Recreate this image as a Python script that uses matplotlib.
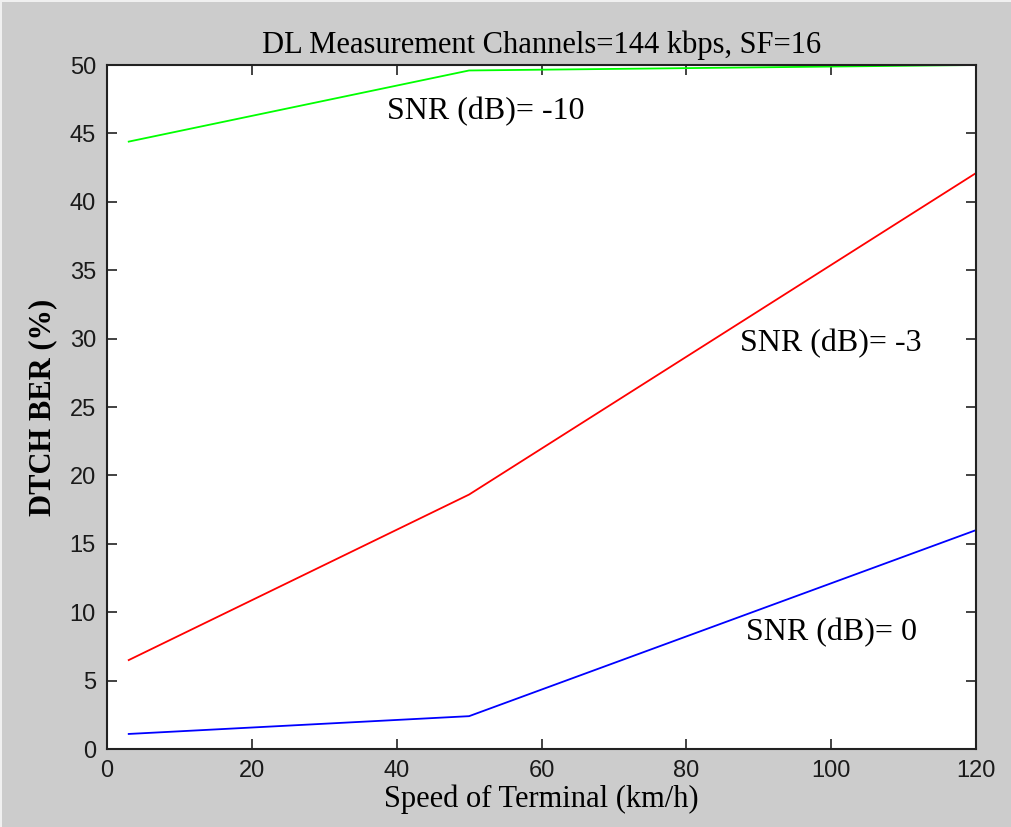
import matplotlib
matplotlib.use("Agg")
import matplotlib.pyplot as plt
from matplotlib.patches import Rectangle

speed = [3, 50, 120]
ber_snr_m10 = [44.4, 49.6, 50.0]
ber_snr_m3 = [6.5, 18.6, 42.1]
ber_snr_0 = [1.1, 2.4, 16.0]

xticks = [0, 20, 40, 60, 80, 100, 120]
yticks = [0, 5, 10, 15, 20, 25, 30, 35, 40, 45, 50]

serif = ["Liberation Serif", "DejaVu Serif"]
sans = ["Liberation Sans", "DejaVu Sans"]

W, H = 1011, 827
fig = plt.figure(figsize=(W / 100, H / 100), dpi=100, facecolor="#cccccc")
# thin light border at top and left edge of the window capture
fig.patches.append(Rectangle((0, 0), 2 / W, 1, transform=fig.transFigure,
                             facecolor="#f0f0f0", edgecolor="none"))
fig.patches.append(Rectangle((0, 1 - 2 / H), 1, 2 / H, transform=fig.transFigure,
                             facecolor="#f0f0f0", edgecolor="none"))

ax = fig.add_axes([107 / W, 1 - 749 / H, (976 - 107) / W, (749 - 65) / H])
ax.set_facecolor("white")

ax.plot(speed, ber_snr_m10, color="#00ff00", lw=1.3)
ax.plot(speed, ber_snr_m3, color="#ff0000", lw=1.3)
ax.plot(speed, ber_snr_0, color="#0000ff", lw=1.3)

ax.set_xlim(0, 120)
ax.set_ylim(0, 50)
ax.set_xticks(xticks)
ax.set_yticks(yticks)
ax.tick_params(direction="in", length=7, width=1.2, top=True, right=True,
               labelsize=17, pad=8, colors="#222222")
for lab in ax.get_xticklabels() + ax.get_yticklabels():
    lab.set_family(sans)
    lab.set_color("#1a1a1a")
for s in ax.spines.values():
    s.set_linewidth(1.5)
    s.set_color("#222222")

ax.text(38.7, 46.6, "SNR (dB)= -10", fontsize=23, family=serif, va="center", ha="left")
ax.text(87.4, 29.6, "SNR (dB)= -3", fontsize=23, family=serif, va="center", ha="left")
ax.text(88.2, 8.5, "SNR (dB)= 0", fontsize=23, family=serif, va="center", ha="left")

ax.set_title("DL Measurement Channels=144 kbps, SF=16", fontsize=22, family=serif, pad=9)
ax.set_xlabel("Speed of Terminal (km/h)", fontsize=22, family=serif, labelpad=2)
ax.set_ylabel("DTCH BER (%)", fontsize=22, family=serif, fontweight="bold", labelpad=9)

fig.savefig("out.png", dpi=100, facecolor=fig.get_facecolor())
